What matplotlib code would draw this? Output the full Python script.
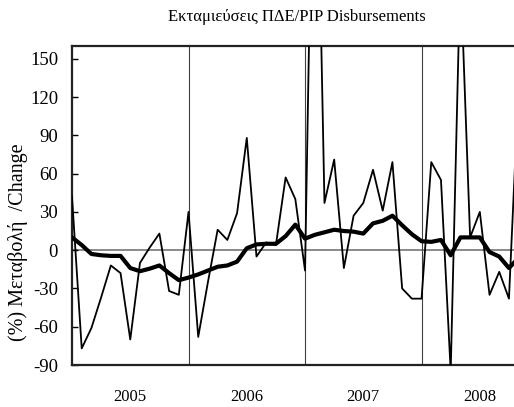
import matplotlib
matplotlib.use("Agg")
import matplotlib.pyplot as plt

years = ["2005", "2006", "2007", "2008"]
yticks = [-90, -60, -30, 0, 30, 60, 90, 120, 150]

monthly_change = [42, -77, -61, -37, -12, -18, -70, -10, 2, 13, -32, -35,
                  30, -68, -25, 16, 8, 29, 88, -5, 6, 4, 57, 40,
                  -16, 420, 37, 71, -14, 27, 37, 63, 31, 69, -30, -38,
                  -38, 69, 55, -95, 220, 10, 30, -35, -17, -38, 130]

moving_avg = [10, 4, -3, -4, -4.5, -4.5, -14, -16.5, -14.5, -12, -18, -23.5,
              -21.5, -19, -16, -13, -12, -9, 1.5, 4.5, 5, 5, 11, 20,
              9, 12, 14, 16, 15, 14.5, 13, 21, 23, 27, 19.5, 12.5,
              7, 6.5, 8, -4, 10, 10, 10, -1.5, -5, -14, -6]

plt.rcParams['font.family'] = ['Liberation Serif', 'DejaVu Serif']

W, H = 514, 407
fig = plt.figure(figsize=(W / 100, H / 100), dpi=100)
left_px, right_px, top_px, bot_px = 72, 530, 46, 365
ax = fig.add_axes([left_px / W, (H - bot_px) / H,
                   (right_px - left_px) / W, (bot_px - top_px) / H])

x = list(range(len(monthly_change)))
month_px = 9.71
ax.set_xlim(0, (right_px - left_px) / month_px)
ax.set_ylim(-90, 160)

ax.axhline(0, color='#808080', lw=1.3, zorder=1)
for b in [12, 24, 36]:
    ax.axvline(b, color='#404040', lw=0.8, zorder=1)

ax.plot(x, monthly_change, color='black', lw=1.3, zorder=3)
ax.plot(x, moving_avg, color='black', lw=3.0, zorder=4, solid_joinstyle='round')

ax.set_yticks(yticks)
ax.set_yticklabels([str(v) for v in yticks])
ax.tick_params(axis='y', direction='in', length=4, width=1, pad=10, labelsize=13.5)
ax.set_xticks([6, 18, 30, 42])
ax.set_xticklabels(years)
ax.tick_params(axis='x', length=0, pad=17, labelsize=12)

for s in ['left', 'top', 'bottom']:
    ax.spines[s].set_linewidth(1.6)
    ax.spines[s].set_color('#222222')
ax.spines['right'].set_visible(False)

ax.set_ylabel("(%) Μεταβολή  /Change", fontsize=14.5)
ax.yaxis.set_label_coords(-0.095, 0.385)

fig.text(297 / W, 1 - 17 / H, "Εκταμιεύσεις ΠΔΕ/PIP Disbursements",
         ha='center', va='center', fontsize=12)

fig.savefig("out.png", dpi=100)
